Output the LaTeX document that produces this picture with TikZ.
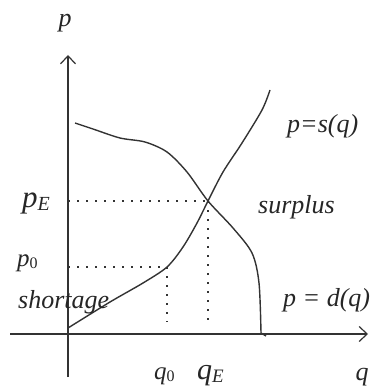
\documentclass[tikz,border=0pt]{standalone}
\usepackage{fontspec}
\setmainfont{Liberation Serif}
\usetikzlibrary{arrows.meta}
\newcommand{\fsz}[1]{\fontsize{#1}{#1}\selectfont}
\tikzset{
axisline/.style={line width=1.2pt,black!80,-{Straight Barb[length=8pt,width=15pt]}},
curve/.style={line width=1.4pt,black!80},
guide/.style={line width=1.7pt,black!80,dash pattern=on 1.7pt off 7.3pt},
lbl/.style={font=\fsz{26}\itshape,text=black!85,inner sep=0pt,anchor=base west},
}
\begin{document}
\begin{tikzpicture}[x=1pt,y=-1pt]
\useasboundingbox (0,0) rectangle (376,387);
% axes
\coordinate (ybot) at (68,377);
\coordinate (ytop) at (68,55);
\coordinate (xleft) at (10,334);
\coordinate (xright) at (368,334);
\draw[axisline] (ybot) -- (ytop);
\draw[axisline] (xleft) -- (xright);
% supply and demand
\draw[curve] plot[smooth,tension=0.5] coordinates {(68,328) (110,302) (143,283) (167,267) (183,247) (197,223) (208,201) (223,172) (242,143) (262,110) (270,90)};
\draw[curve] plot[smooth,tension=0.5] coordinates {(75,123) (93,129) (120,138) (145,142) (167,152) (187,172) (208,201) (233,228) (252,253) (259,283) (261,333)} -- (266,336);
% equilibrium and low price
\coordinate (E) at (208,201);
\coordinate (P0) at (167,267);
\coordinate (pEaxis) at (68,201);
\coordinate (p0axis) at (68,267);
\coordinate (qEfoot) at (208,322);
\coordinate (q0foot) at (167,322);
\draw[guide] (pEaxis) -- (E);
\draw[guide] (E) -- (qEfoot);
\draw[guide] (p0axis) -- (P0);
\draw[guide] (P0) -- (q0foot);
% labels
\node[lbl,anchor=base] (plabel) at (65,27) {p};
\node[lbl,anchor=base] (qlabel) at (362,380) {q};
\node[lbl] (pE) at (22,207) {\fsz{31}p\raisebox{-3pt}{\fsz{20}E}};
\node[lbl] (p0) at (17,266) {\fsz{25}p\raisebox{-2pt}{\fsz{16}\upshape 0}};
\node[lbl] (q0) at (154,379) {\fsz{25}q\raisebox{-2pt}{\fsz{16}\upshape 0}};
\node[lbl] (qE) at (197,379) {\fsz{30}q\raisebox{-3pt}{\fsz{19}E}};
\node[lbl] (shortage) at (18,308) {shortage};
\node[lbl] (surplus) at (258,213) {surplus};
\node[lbl] (supply) at (287,133) {p=s(q)};
\node[lbl] (demand) at (283,306) {p = d(q)};
\end{tikzpicture}
\end{document}
